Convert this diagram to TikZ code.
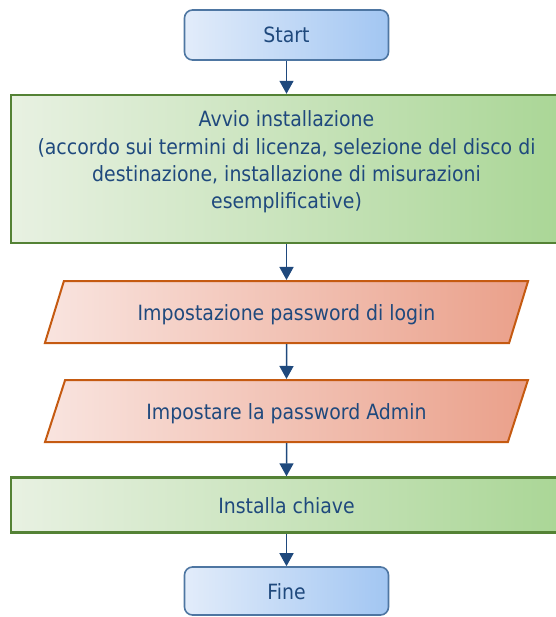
\documentclass[tikz,border=0pt]{standalone}
\usepackage{fontspec}
\setmainfont{DejaVu Sans}[FakeStretch=0.9]
\usetikzlibrary{arrows.meta,shapes.geometric}

\definecolor{txtblue}{RGB}{31,73,125}
\definecolor{bluebord}{RGB}{78,118,162}
\definecolor{blueleft}{RGB}{226,236,250}
\definecolor{blueright}{RGB}{162,198,242}
\definecolor{greenbord}{RGB}{84,130,53}
\definecolor{greenleft}{RGB}{232,241,226}
\definecolor{greenright}{RGB}{170,214,150}
\definecolor{orangebord}{RGB}{197,90,17}
\definecolor{redleft}{RGB}{249,228,223}
\definecolor{redright}{RGB}{234,160,138}

\begin{document}
\begin{tikzpicture}[x=1pt,y=-1pt,>={Triangle[width=14pt,length=13pt]},
    every node/.style={text=txtblue,font=\fontsize{21}{27.3}\selectfont},
    terminal/.style={rectangle,rounded corners=8pt,draw=bluebord,line width=1.6pt,
        left color=blueleft,right color=blueright,minimum width=204pt,
        text height=18pt,text depth=2pt},
    process/.style={rectangle,draw=greenbord,line width=2.4pt,
        left color=greenleft,right color=greenright,minimum width=551pt},
    io/.style={trapezium,trapezium left angle=64,trapezium right angle=116,
        trapezium stretches=true,draw=orangebord,line width=2pt,
        left color=redleft,right color=redright,minimum width=484pt,
        minimum height=62pt,text height=18pt,text depth=2pt},
    line/.style={->,draw=txtblue,line width=1.5pt}]
    \useasboundingbox (0,0) rectangle (555,617);

    \node[terminal,minimum height=50pt] (start) at (286.5,35) {Start};
    \node[process,minimum height=148pt] (avvio) at (286.5,169) {};
    \node[align=center] (avviotxt) at (286.5,162)
        {Avvio installazione\\(accordo sui termini di licenza, selezione del disco di\\
         destinazione, installazione di misurazioni\\esemplificative)};
    \node[io] (login) at (286.5,312) {Impostazione password di login};
    \node[io] (admin) at (286.5,411) {Impostare la password Admin};
    \node[process,minimum height=55pt,text height=18pt,text depth=2pt] (chiave) at (286.5,505) {Installa chiave};
    \node[terminal,minimum height=48pt] (fine) at (286.5,591) {Fine};

    \path[line] (start) -- (avvio);
    \path[line] (avvio) -- (login);
    \path[line] (login) -- (admin);
    \path[line] (admin) -- (chiave);
    \path[line] (chiave) -- (fine);
\end{tikzpicture}
\end{document}
